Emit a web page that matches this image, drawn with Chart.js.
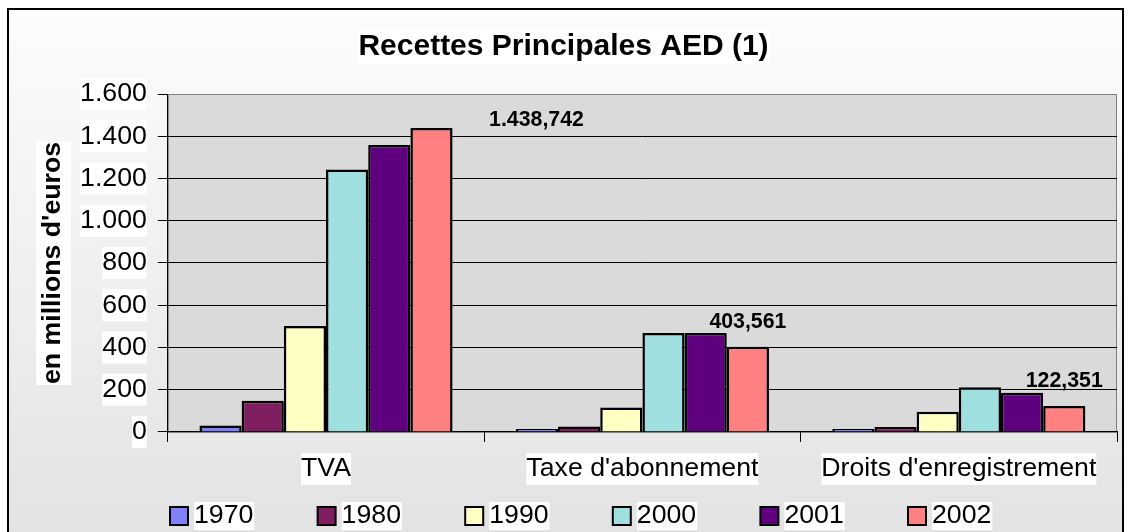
<!DOCTYPE html>
<html>
<head>
<meta charset="utf-8">
<script src="https://cdn.jsdelivr.net/npm/chart.js@4/dist/chart.umd.min.js"></script>
<style>
  html, body { margin: 0; padding: 0; background: #fff; }
  canvas { display: block; }
</style>
</head>
<body>
<canvas id="recettes" width="1131" height="532"></canvas>
<script>
// valeurs en millions d'euros
var categories = ["TVA", "Taxe d'abonnement", "Droits d'enregistrement"];
var annees = ["1970", "1980", "1990", "2000", "2001", "2002"];
var v1970 = [30, 4, 3];
var v1980 = [148, 26, 24];
var v1990 = [502, 116, 96];
var v2000 = [1243, 469, 212];
var v2001 = [1358, 468, 186];
var v2002 = [1438.742, 403.561, 122.351];
var yMin = 0, yMax = 1600, yPas = 200;

var couleurs = ["#8080f8", "#7f1f5f", "#ffffc4", "#a0dfe0", "#5f007f", "#ff8080"];
var series = [v1970, v1980, v1990, v2000, v2001, v2002];
var police = '"Liberation Sans", Arial, sans-serif';

Chart.defaults.font.family = police;
Chart.defaults.color = "#000";

function formatNombre(v, dec) {
  var parts = v.toFixed(dec).split(".");
  var ent = parts[0].replace(/\B(?=(\d{3})+(?!\d))/g, ".");
  return parts.length > 1 ? ent + "," + parts[1] : ent;
}

// fond du cadre, zone de tracé, fonds blancs des titres
var fondPlugin = {
  id: "fond",
  beforeDraw: function (chart) {
    var c = chart.ctx, a = chart.chartArea;
    c.save();
    c.fillStyle = "#fff";
    c.fillRect(0, 0, chart.width, chart.height);
    var g = c.createLinearGradient(0, 9, 0, 532);
    g.addColorStop(0, "#fcfcfc");
    g.addColorStop(1, "#e3e3e3");
    c.fillStyle = g;
    c.fillRect(8, 9, 1115, 540);
    c.lineWidth = 2;
    c.strokeStyle = "#000";
    c.strokeRect(8, 9, 1115, 540);

    c.fillStyle = "#dadada";
    c.fillRect(a.left, a.top, a.right - a.left, a.bottom - a.top);
    c.lineWidth = 1;
    c.strokeStyle = "#808080";
    c.strokeRect(a.left + 0.5, a.top + 0.5, a.right - a.left - 1, a.bottom - a.top);

    // fond blanc du titre
    var t = chart.titleBlock;
    c.font = "bold 30px " + police;
    var wt = c.measureText(t.options.text).width;
    var cx = (t.left + t.right) / 2;
    var cy = t.top + 18.3 + 18;
    c.fillStyle = "#fff";
    c.fillRect(cx - wt / 2 - 1, cy - 17, wt + 2, 35);

    // fond blanc du titre de l'axe
    var s = chart.scales.y;
    c.font = "bold 26.7px " + police;
    var wy = c.measureText(s.options.title.text).width;
    var tx = s.left + 27 + 16;
    var ty = (s.top + s.bottom) / 2;
    c.fillRect(tx - 17, ty - wy / 2 - 1, 35, wy + 2);
    c.restore();
  }
};

// étiquettes de la série 2002
var decalages = [[105, 17], [0, 0], [0, 0]];
var etiquettesPlugin = {
  id: "etiquettes",
  afterDatasetsDraw: function (chart) {
    var c = chart.ctx;
    var meta = chart.getDatasetMeta(5);
    c.save();
    c.font = "bold 21.3px " + police;
    c.fillStyle = "#000";
    c.textAlign = "center";
    c.textBaseline = "middle";
    meta.data.forEach(function (barre, i) {
      var d = decalages[i];
      c.fillText(formatNombre(v2002[i], 3), barre.x + d[0], barre.y - 25 + d[1]);
    });
    c.restore();
  }
};

// légende en bas
var legendePlugin = {
  id: "legende",
  afterDraw: function (chart) {
    var c = chart.ctx;
    c.save();
    c.font = "26.7px " + police;
    c.textBaseline = "middle";
    chart.data.datasets.forEach(function (ds, i) {
      var x = 170 + i * 147.6, y = 516;
      c.fillStyle = ds.backgroundColor;
      c.fillRect(x, y - 9, 18, 18);
      c.lineWidth = 2;
      c.strokeStyle = "#000";
      c.strokeRect(x, y - 9, 18, 18);
      var w = c.measureText(ds.label).width;
      c.fillStyle = "#fff";
      c.fillRect(x + 24, y - 14, w + 1, 28);
      c.fillStyle = "#000";
      c.fillText(ds.label, x + 24, y);
    });
    c.restore();
  }
};

var ctx = document.getElementById("recettes").getContext("2d");

new Chart(ctx, {
  type: "bar",
  data: {
    labels: categories,
    datasets: annees.map(function (an, i) {
      return {
        label: an,
        data: series[i],
        backgroundColor: couleurs[i],
        borderColor: "#000",
        borderWidth: 2.5,
        minBarLength: 3,
        categoryPercentage: 0.8,
        barPercentage: 1
      };
    })
  },
  options: {
    responsive: false,
    animation: false,
    layout: { padding: { left: 10, right: 14, top: 10, bottom: 36 } },
    plugins: {
      legend: { display: false },
      tooltip: { enabled: false },
      title: {
        display: true,
        text: "Recettes Principales AED (1)",
        color: "#000",
        font: { size: 30, weight: "bold" },
        padding: { top: 18.3, bottom: 29.7 }
      }
    },
    scales: {
      x: {
        grid: { offset: true, drawOnChartArea: false, tickLength: 10, color: "#000" },
        border: { color: "#000" },
        ticks: {
          color: "#000",
          font: { size: 26.7 },
          padding: 11,
          maxRotation: 0,
          showLabelBackdrop: true,
          backdropColor: "#fff",
          backdropPadding: 0
        }
      },
      y: {
        min: yMin,
        max: yMax,
        border: { color: "#000" },
        grid: {
          tickLength: 10,
          tickColor: "#000",
          color: function (c) {
            return c.tick && c.tick.value === yMax ? "#808080" : "#000";
          }
        },
        ticks: {
          stepSize: yPas,
          color: "#000",
          font: { size: 26.7 },
          padding: 11,
          showLabelBackdrop: true,
          backdropColor: "#fff",
          backdropPadding: 0,
          callback: function (v) { return formatNombre(v, 0); }
        },
        title: {
          display: true,
          text: "en millions d'euros",
          color: "#000",
          font: { size: 26.7, weight: "bold" },
          padding: { top: 27, bottom: 0 }
        }
      }
    }
  },
  plugins: [fondPlugin, etiquettesPlugin, legendePlugin]
});
</script>
</body>
</html>
